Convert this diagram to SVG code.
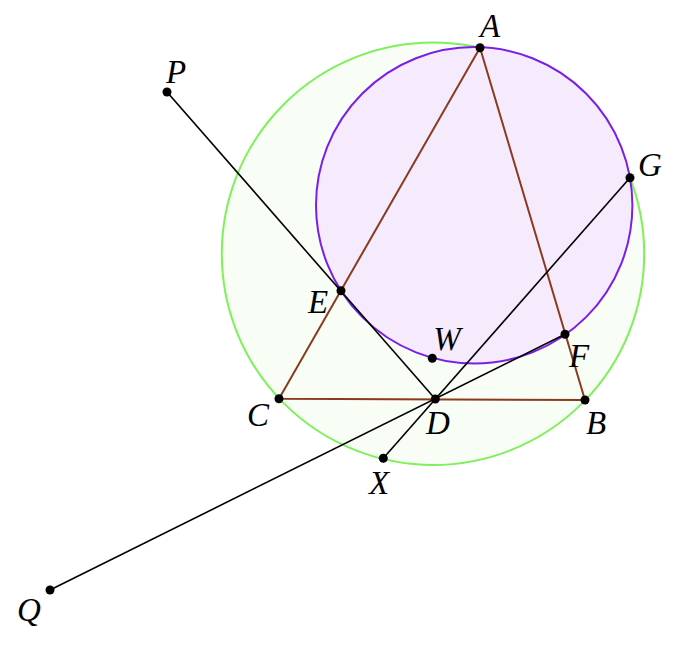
<svg xmlns="http://www.w3.org/2000/svg" width="688" height="650" viewBox="0 0 688 650">
<style>
.lbl{font-family:"Liberation Serif","DejaVu Serif",serif;font-style:italic;font-size:33px;fill:#000;text-anchor:middle}
.pt{fill:#000}
.ln{stroke:#000;stroke-width:1.6;fill:none}
.tri{stroke:#8b3a1e;stroke-width:2;fill:none;stroke-linejoin:round}
</style>
<rect width="688" height="650" fill="#fff"/>
<g id="circle-green"><circle cx="433" cy="253.8" r="211.2" fill="#f8fdf5" stroke="#7ef05a" stroke-width="2"/></g>
<g id="circle-purple"><circle cx="474.2" cy="205.3" r="158.2" fill="#f5ebfd" stroke="#7a1fe6" stroke-width="2"/></g>
<g id="connectors">
<polygon class="tri" points="480,47.7 585,400 279,398.7"/>
<line class="ln" x1="167" y1="92" x2="435.3" y2="399"/>
<line class="ln" x1="50" y1="590" x2="565" y2="334.3"/>
<line class="ln" x1="383.3" y1="458.3" x2="630" y2="177.7"/>
</g>
<g id="A"><circle class="pt" cx="480" cy="47.7" r="4.5"/><text class="lbl" x="490" y="37">A</text></g>
<g id="B"><circle class="pt" cx="585" cy="400" r="4.5"/><text class="lbl" x="596" y="434">B</text></g>
<g id="C"><circle class="pt" cx="279" cy="398.7" r="4.5"/><text class="lbl" x="258" y="426">C</text></g>
<g id="D"><circle class="pt" cx="435.3" cy="399" r="4.5"/><text class="lbl" x="438" y="434">D</text></g>
<g id="E"><circle class="pt" cx="341" cy="290.7" r="4.5"/><text class="lbl" x="318" y="313">E</text></g>
<g id="F"><circle class="pt" cx="565" cy="334.3" r="4.5"/><text class="lbl" x="579" y="367">F</text></g>
<g id="G"><circle class="pt" cx="630" cy="177.7" r="4.5"/><text class="lbl" x="650" y="176">G</text></g>
<g id="W"><circle class="pt" cx="432.3" cy="358.3" r="4.5"/><text class="lbl" x="447" y="350">W</text></g>
<g id="X"><circle class="pt" cx="383.3" cy="458.3" r="4.5"/><text class="lbl" x="379" y="494">X</text></g>
<g id="P"><circle class="pt" cx="167" cy="92" r="4.5"/><text class="lbl" x="176" y="83">P</text></g>
<g id="Q"><circle class="pt" cx="50" cy="590" r="4.5"/><text class="lbl" x="29" y="621">Q</text></g>
</svg>
